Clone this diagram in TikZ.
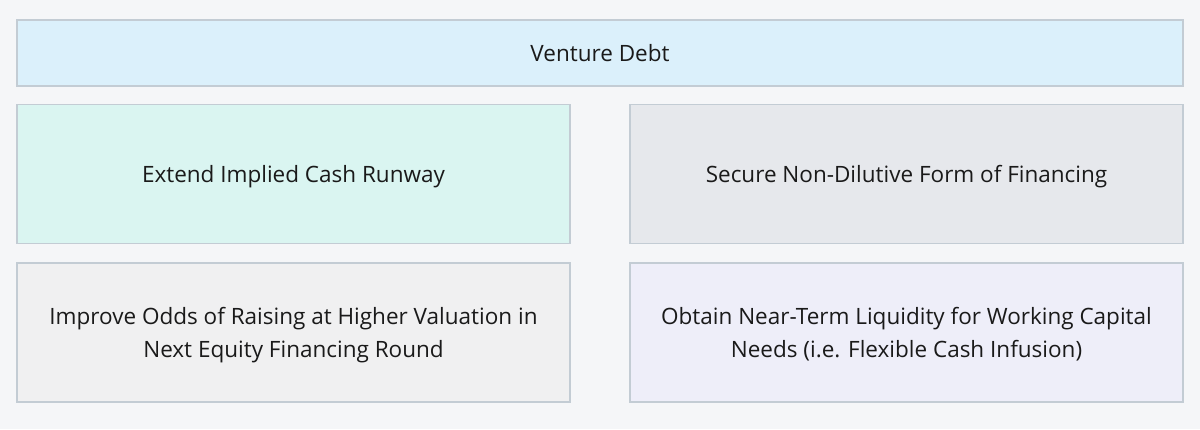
\documentclass[tikz,border=0pt]{standalone}
\usepackage{fontspec}
\setmainfont{Open Sans}
\usetikzlibrary{positioning}
\definecolor{bgcol}{HTML}{F5F6F8}
\definecolor{edgecol}{HTML}{C3CCD4}
\definecolor{txtcol}{HTML}{1A1A1A}
\definecolor{topfill}{HTML}{DBF0FB}
\definecolor{runfill}{HTML}{DAF5F1}
\definecolor{nondfill}{HTML}{E6E8EC}
\definecolor{oddsfill}{HTML}{F0F0F1}
\definecolor{liqfill}{HTML}{EEEEF9}
\tikzset{
	box/.style={draw=edgecol, line width=1.1pt, rectangle, inner sep=2pt, align=center,
		text=txtcol, text depth=0pt, font=\fontsize{22.5}{33}\selectfont},
	header/.style={box, minimum width=1166pt, minimum height=66pt, fill=topfill},
	% the four reasons below the header
	reason/.style={box, minimum width=553pt, minimum height=139pt},
}

\begin{document}
\begin{tikzpicture}[x=1pt, y=-1pt]
	\fill[bgcol] (0,0) rectangle (1200,429);
	\useasboundingbox (0,0) rectangle (1200,429);
	
	\node (debt) [header] at (600,53) {Venture Debt};
	
	\node (runway) [reason, fill=runfill] at (293.5,174) {Extend Implied Cash Runway};
	\node (nondil) [reason, fill=nondfill] at (906.5,174) {Secure Non-Dilutive Form of Financing};
	
	\node (odds) [reason, fill=oddsfill] at (293.5,332.5) {Improve Odds of Raising at Higher Valuation in\\Next Equity Financing Round};
	\node (liquid) [reason, fill=liqfill] at (906.5,332.5) {Obtain Near-Term Liquidity for Working Capital\\Needs (i.e. Flexible Cash Infusion)};
	
\end{tikzpicture}
\end{document}
